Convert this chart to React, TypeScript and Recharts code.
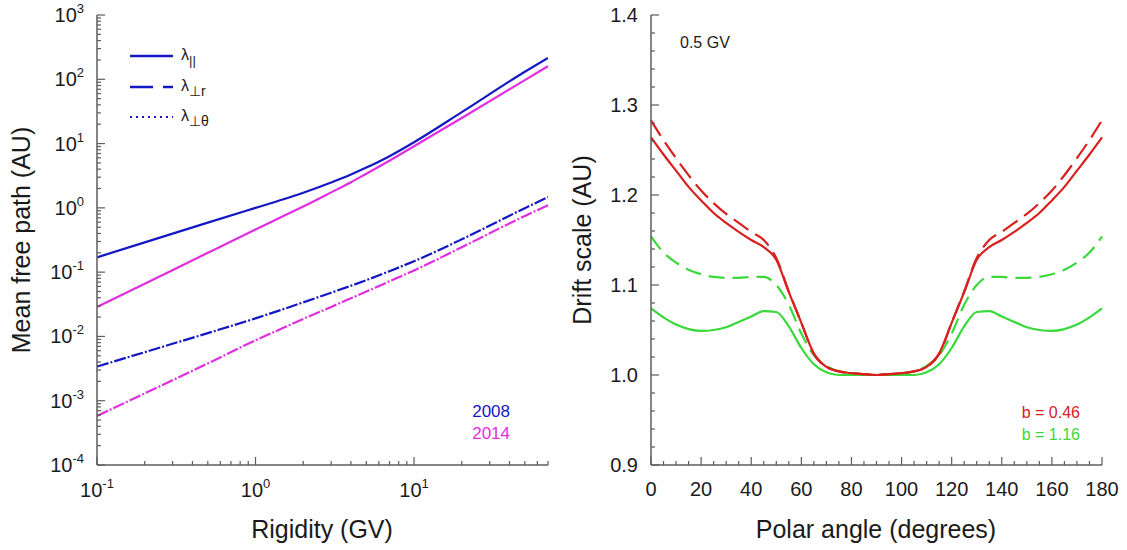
import React from 'react';
import { LineChart, Line, XAxis, YAxis } from 'recharts';

// ---------- Left panel data (mean free path vs rigidity) ----------
const rigidity = [0.1, 0.2, 0.5, 1, 1.5, 2, 3, 4, 5, 7, 10, 20, 50, 70];
const lambdaPar2008 = [0.17, 0.29, 0.59, 1.0, 1.36, 1.72, 2.48, 3.3, 4.23, 6.37, 10.5, 30.8, 131, 215];
const lambdaPar2014 = [0.0286, 0.066, 0.2, 0.46, 0.745, 1.05, 1.74, 2.5, 3.4, 5.4, 9.1, 25, 97, 160];
const lambdaPerp2008 = [0.0034, 0.00569, 0.01127, 0.0191, 0.0266, 0.0339, 0.0479, 0.0614, 0.075, 0.1035, 0.148, 0.324, 0.99, 1.47];
const lambdaPerp2014 = [0.00058, 0.0013, 0.0038, 0.0087, 0.0136, 0.0187, 0.0288, 0.0392, 0.0498, 0.0721, 0.1064, 0.244, 0.748, 1.1];

// ---------- Right panel data (drift scale vs polar angle) ----------
const angles = [0, 5, 10, 15, 20, 25, 30, 35, 40, 45, 50, 55, 60, 65, 70, 75, 80, 85, 90,
  95, 100, 105, 110, 115, 120, 125, 130, 135, 140, 145, 150, 155, 160, 165, 170, 175, 180];
const driftSolidB046 = [1.264, 1.245, 1.227, 1.209, 1.194, 1.18, 1.169, 1.159, 1.15, 1.142, 1.128, 1.092, 1.058, 1.024, 1.009, 1.004, 1.002, 1.001, 1.0,
  1.001, 1.002, 1.004, 1.009, 1.024, 1.058, 1.092, 1.128, 1.142, 1.15, 1.159, 1.169, 1.18, 1.194, 1.209, 1.227, 1.245, 1.264];
const driftDashedB046 = [1.283, 1.261, 1.241, 1.222, 1.205, 1.191, 1.179, 1.169, 1.159, 1.15, 1.13, 1.093, 1.058, 1.023, 1.009, 1.004, 1.002, 1.001, 1.0,
  1.001, 1.002, 1.004, 1.009, 1.023, 1.058, 1.093, 1.13, 1.15, 1.159, 1.169, 1.179, 1.191, 1.205, 1.222, 1.241, 1.261, 1.283];
const driftSolidB116 = [1.074, 1.064, 1.056, 1.051, 1.049, 1.05, 1.053, 1.059, 1.065, 1.071, 1.07, 1.054, 1.03, 1.012, 1.003, 1.0, 1.0, 1.0, 1.0,
  1.0, 1.0, 1.0, 1.003, 1.012, 1.03, 1.054, 1.07, 1.071, 1.065, 1.059, 1.053, 1.05, 1.049, 1.051, 1.056, 1.064, 1.074];
const driftDashedB116 = [1.154, 1.136, 1.125, 1.117, 1.112, 1.109, 1.108, 1.108, 1.109, 1.109, 1.1, 1.078, 1.046, 1.022, 1.01, 1.004, 1.002, 1.001, 1.0,
  1.001, 1.002, 1.004, 1.01, 1.022, 1.046, 1.078, 1.1, 1.109, 1.109, 1.108, 1.108, 1.109, 1.112, 1.117, 1.125, 1.136, 1.154];

// ---------- Ticks ----------
const leftDecadesX = [0.1, 1, 10];
const leftXTicks = leftDecadesX.flatMap((d) => [1, 2, 3, 4, 5, 6, 7, 8, 9].map((m) => m * d)).filter((v) => v <= 70.0001);
const leftDecadesY = [1e-4, 1e-3, 1e-2, 1e-1, 1, 10, 100];
const leftYTicks = [...leftDecadesY.flatMap((d) => [1, 2, 3, 4, 5, 6, 7, 8, 9].map((m) => m * d)), 1000];
const rightXTicks = Array.from({ length: 37 }, (_, i) => i * 5);
const rightYTicks = Array.from({ length: 26 }, (_, i) => Math.round((0.9 + 0.02 * i) * 100) / 100);

const leftData = rigidity.map((r, i) => ({
  r,
  par2008: lambdaPar2008[i],
  par2014: lambdaPar2014[i],
  perp2008: lambdaPerp2008[i],
  perp2014: lambdaPerp2014[i],
}));
const rightData = angles.map((a, i) => ({
  a,
  s046: driftSolidB046[i],
  d046: driftDashedB046[i],
  s116: driftSolidB116[i],
  d116: driftDashedB116[i],
}));

const AXIS = '#5c5c5c';
const FONT = '"Liberation Sans", Arial, Helvetica, sans-serif';
const BLUE = '#1418c4';
const MAGENTA = '#e02ee0';
const RED = '#d8201f';
const GREEN = '#3ad83a';
const TXT = '#1a1a1a';

const isDecade = (v: number) => {
  const l = Math.log10(v);
  return Math.abs(l - Math.round(l)) < 1e-6;
};
const expOf = (v: number) => String(Math.round(Math.log10(v)));

// ---- Left panel ticks ----
const LeftLogY = (p: any) => {
  const { x, y, payload } = p;
  const major = isDecade(payload.value);
  const len = major ? 8 : 4;
  return (
    <g>
      <line x1={x} y1={y} x2={x + len} y2={y} stroke={AXIS} strokeWidth={1.2} />
      {major && (
        <text x={x - 13} y={y + 7} textAnchor="end" fontSize={20} fill={TXT} fontFamily={FONT}>
          10<tspan dy={-9} fontSize={13}>{expOf(payload.value)}</tspan>
        </text>
      )}
    </g>
  );
};
const RightLogY = (p: any) => {
  const { x, y, payload } = p;
  const len = isDecade(payload.value) ? 8 : 4;
  return <line x1={x} y1={y} x2={x - len} y2={y} stroke={AXIS} strokeWidth={1.2} />;
};
const BottomLogX = (p: any) => {
  const { x, y, payload } = p;
  const major = isDecade(payload.value);
  const len = major ? 8 : 4;
  return (
    <g>
      <line x1={x} y1={y} x2={x} y2={y - len} stroke={AXIS} strokeWidth={1.2} />
      {major && (
        <text x={x} y={y + 32} textAnchor="middle" fontSize={20} fill={TXT} fontFamily={FONT}>
          10<tspan dy={-9} fontSize={13}>{expOf(payload.value)}</tspan>
        </text>
      )}
    </g>
  );
};
const TopLogX = (p: any) => {
  const { x, y, payload } = p;
  const len = isDecade(payload.value) ? 8 : 4;
  return <line x1={x} y1={y} x2={x} y2={y + len} stroke={AXIS} strokeWidth={1.2} />;
};

// ---- Right panel ticks ----
const isMajorAngle = (v: number) => v % 20 === 0;
const isMajorDrift = (v: number) => Math.round(v * 100) % 10 === 0;
const LinLeftY = (p: any) => {
  const { x, y, payload } = p;
  const major = isMajorDrift(payload.value);
  const len = major ? 8 : 4;
  return (
    <g>
      <line x1={x} y1={y} x2={x + len} y2={y} stroke={AXIS} strokeWidth={1.2} />
      {major && (
        <text x={x - 13} y={y + 7} textAnchor="end" fontSize={20} fill={TXT} fontFamily={FONT}>
          {payload.value.toFixed(1)}
        </text>
      )}
    </g>
  );
};
const LinRightY = (p: any) => {
  const { x, y, payload } = p;
  const len = isMajorDrift(payload.value) ? 8 : 4;
  return <line x1={x} y1={y} x2={x - len} y2={y} stroke={AXIS} strokeWidth={1.2} />;
};
const LinBottomX = (p: any) => {
  const { x, y, payload } = p;
  const major = isMajorAngle(payload.value);
  const len = major ? 8 : 4;
  return (
    <g>
      <line x1={x} y1={y} x2={x} y2={y - len} stroke={AXIS} strokeWidth={1.2} />
      {major && (
        <text x={x} y={y + 31} textAnchor="middle" fontSize={20} fill={TXT} fontFamily={FONT}>
          {String(payload.value)}
        </text>
      )}
    </g>
  );
};
const LinTopX = (p: any) => {
  const { x, y, payload } = p;
  const len = isMajorAngle(payload.value) ? 8 : 4;
  return <line x1={x} y1={y} x2={x} y2={y + len} stroke={AXIS} strokeWidth={1.2} />;
};

const axisLine = { stroke: AXIS, strokeWidth: 1.5 };

export default function App() {
  return (
    <div style={{ position: 'absolute', left: 0, top: 0, width: 1127, height: 550, background: '#fff', fontFamily: FONT }}>
      <div style={{ position: 'absolute', left: 0, top: 0 }}>
        <LineChart width={560} height={550} data={leftData} margin={{ top: 15, right: 12, bottom: 0, left: 0 }}>
          <XAxis dataKey="r" type="number" scale="log" domain={[0.1, 70]} allowDataOverflow ticks={leftXTicks}
            interval={0} tick={BottomLogX} tickLine={false} tickSize={0} tickMargin={0} height={85} axisLine={axisLine} />
          <XAxis xAxisId="top" orientation="top" dataKey="r" type="number" scale="log" domain={[0.1, 70]} allowDataOverflow
            ticks={leftXTicks} interval={0} tick={TopLogX} tickLine={false} tickSize={0} tickMargin={0} height={0} axisLine={axisLine} />
          <YAxis type="number" scale="log" domain={[1e-4, 1e3]} allowDataOverflow ticks={leftYTicks} interval={0}
            tick={LeftLogY} tickLine={false} tickSize={0} tickMargin={0} width={97} axisLine={axisLine} />
          <YAxis yAxisId="right" orientation="right" type="number" scale="log" domain={[1e-4, 1e3]} allowDataOverflow
            ticks={leftYTicks} interval={0} tick={RightLogY} tickLine={false} tickSize={0} tickMargin={0} width={0} axisLine={axisLine} />
          <Line dataKey="par2008" type="monotone" stroke={BLUE} strokeWidth={2.2} dot={false} activeDot={false} isAnimationActive={false} />
          <Line dataKey="par2014" type="monotone" stroke={MAGENTA} strokeWidth={2.2} dot={false} activeDot={false} isAnimationActive={false} />
          <Line dataKey="perp2008" type="monotone" stroke={BLUE} strokeWidth={2.2} strokeDasharray="12 6" dot={false} activeDot={false} isAnimationActive={false} />
          <Line dataKey="perp2008" type="monotone" stroke={BLUE} strokeWidth={2.2} strokeDasharray="2 16" strokeDashoffset={4} dot={false} activeDot={false} isAnimationActive={false} />
          <Line dataKey="perp2014" type="monotone" stroke={MAGENTA} strokeWidth={2.2} strokeDasharray="12 6" dot={false} activeDot={false} isAnimationActive={false} />
          <Line dataKey="perp2014" type="monotone" stroke={MAGENTA} strokeWidth={2.2} strokeDasharray="2 16" strokeDashoffset={4} dot={false} activeDot={false} isAnimationActive={false} />
        </LineChart>
      </div>
      <div style={{ position: 'absolute', left: 560, top: 0 }}>
        <LineChart width={567} height={550} data={rightData} margin={{ top: 15, right: 25, bottom: 0, left: 0 }}>
          <XAxis dataKey="a" type="number" domain={[0, 180]} ticks={rightXTicks} interval={0} tick={LinBottomX}
            tickLine={false} tickSize={0} tickMargin={0} height={85} axisLine={axisLine} />
          <XAxis xAxisId="top" orientation="top" dataKey="a" type="number" domain={[0, 180]} ticks={rightXTicks} interval={0}
            tick={LinTopX} tickLine={false} tickSize={0} tickMargin={0} height={0} axisLine={axisLine} />
          <YAxis type="number" domain={[0.9, 1.4]} allowDataOverflow ticks={rightYTicks} interval={0} tick={LinLeftY}
            tickLine={false} tickSize={0} tickMargin={0} width={91} axisLine={axisLine} />
          <YAxis yAxisId="right" orientation="right" type="number" domain={[0.9, 1.4]} allowDataOverflow ticks={rightYTicks}
            interval={0} tick={LinRightY} tickLine={false} tickSize={0} tickMargin={0} width={0} axisLine={axisLine} />
          <Line dataKey="s116" type="monotone" stroke={GREEN} strokeWidth={2.2} dot={false} activeDot={false} isAnimationActive={false} />
          <Line dataKey="d116" type="monotone" stroke={GREEN} strokeWidth={2.2} strokeDasharray="16 8" dot={false} activeDot={false} isAnimationActive={false} />
          <Line dataKey="s046" type="monotone" stroke={RED} strokeWidth={2.2} dot={false} activeDot={false} isAnimationActive={false} />
          <Line dataKey="d046" type="monotone" stroke={RED} strokeWidth={2.2} strokeDasharray="18 8" dot={false} activeDot={false} isAnimationActive={false} />
        </LineChart>
      </div>
      <svg width={1127} height={550} style={{ position: 'absolute', left: 0, top: 0, pointerEvents: 'none' }} fontFamily={FONT}>
        {/* axis titles */}
        <text x={30} y={240} transform="rotate(-90 30 240)" textAnchor="middle" fontSize={25} fill={TXT}>Mean free path (AU)</text>
        <text x={322} y={538} textAnchor="middle" fontSize={25} fill={TXT}>Rigidity (GV)</text>
        <text x={591} y={240} transform="rotate(-90 591 240)" textAnchor="middle" fontSize={25} fill={TXT}>Drift scale (AU)</text>
        <text x={876} y={538} textAnchor="middle" fontSize={25} fill={TXT}>Polar angle (degrees)</text>
        {/* legend */}
        <line x1={130} y1={56} x2={173} y2={56} stroke={BLUE} strokeWidth={2.5} />
        <line x1={130} y1={87} x2={173} y2={87} stroke={BLUE} strokeWidth={2.5} strokeDasharray="23 10" />
        <line x1={130} y1={117} x2={173} y2={117} stroke={BLUE} strokeWidth={2} strokeDasharray="2 4" />
        <text x={181} y={60} fontSize={16} fill={TXT}>λ<tspan dy={5} fontSize={13}>||</tspan></text>
        <text x={181} y={91} fontSize={16} fill={TXT}>λ<tspan dy={5} fontSize={14}>⊥r</tspan></text>
        <text x={181} y={121} fontSize={16} fill={TXT}>λ<tspan dy={5} fontSize={14}>⊥θ</tspan></text>
        {/* year labels */}
        <text x={510} y={417} textAnchor="end" fontSize={17} fill={BLUE}>2008</text>
        <text x={510} y={439} textAnchor="end" fontSize={17} fill={MAGENTA}>2014</text>
        {/* right panel labels */}
        <text x={680} y={48} fontSize={16} fill={TXT}>0.5 GV</text>
        <text x={1080} y={418} textAnchor="end" fontSize={16} fill={RED}>b = 0.46</text>
        <text x={1080} y={440} textAnchor="end" fontSize={16} fill={GREEN}>b = 1.16</text>
      </svg>
    </div>
  );
}
